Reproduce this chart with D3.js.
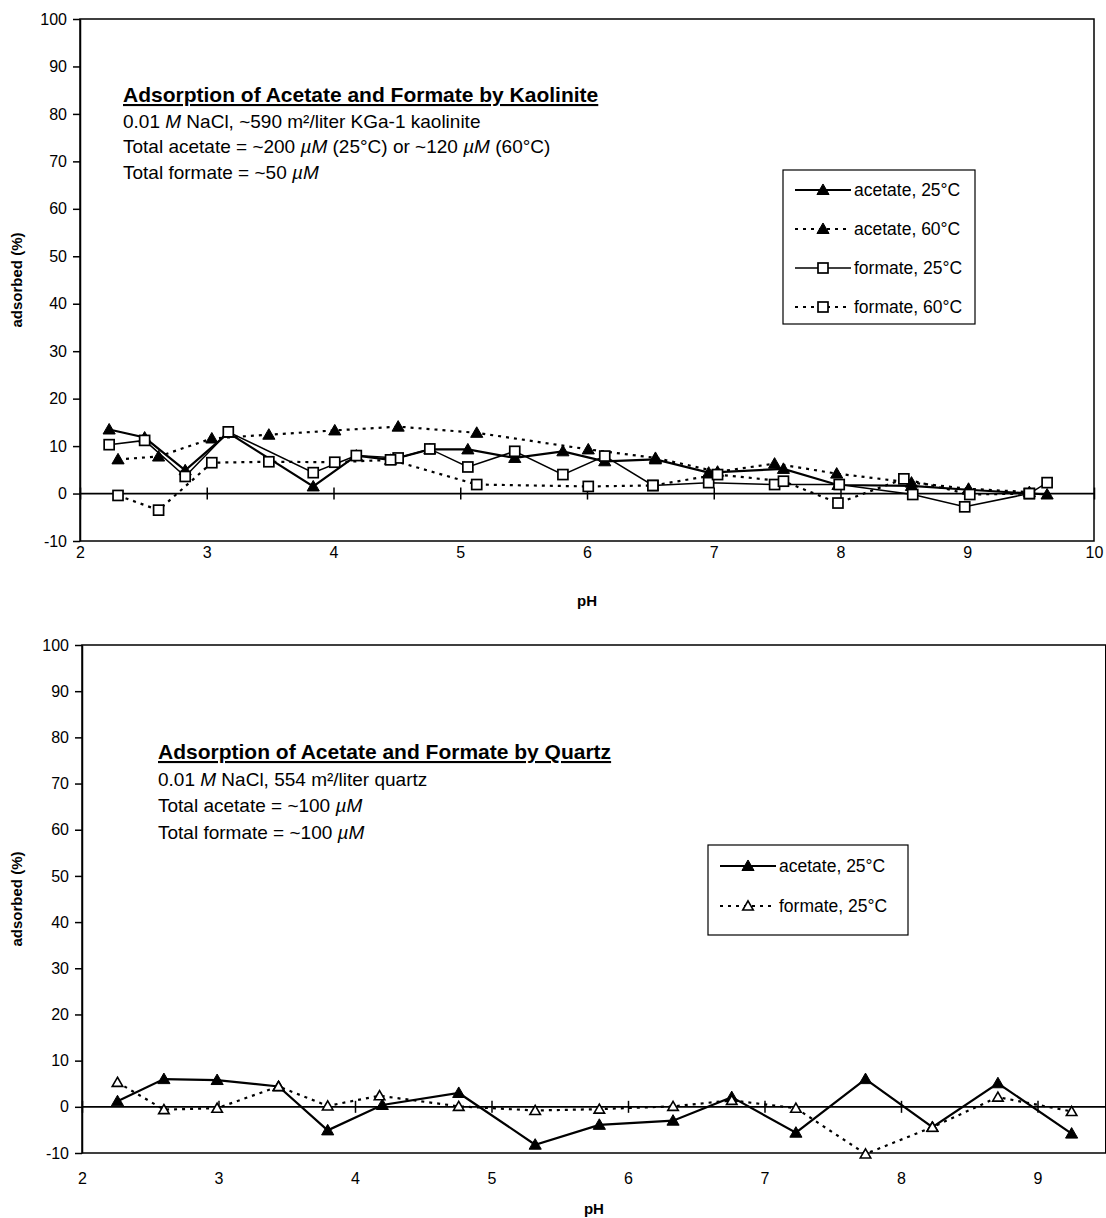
<!DOCTYPE html>
<html>
<head>
<meta charset="utf-8">
<script src="https://cdn.jsdelivr.net/npm/d3@7"></script>
<style>
  body { margin: 0; background: #fff; }
  text { font-family: "Liberation Sans", Arial, Helvetica, sans-serif; fill: #000; }
  .tick text { font-size: 16px; }
  .axis-title { font-size: 15px; font-weight: bold; }
  .note { font-size: 19px; }
  .note-title { font-size: 21px; font-weight: bold; text-decoration: underline; }
  .legend-label { font-size: 17.5px; }
</style>
</head>
<body>
<script>
// ---- data (pH, % adsorbed) ----

// kaolinite panel
const acetate25K = [[2.23,13.5],[2.51,11.8],[2.83,4.9],[3.17,12.8],[3.84,1.5],[4.18,8.0],[4.45,7.1],[4.76,9.3],
  [5.06,9.3],[5.43,7.5],[5.81,8.9],[6.14,6.8],[6.54,7.2],[6.96,4.4],[7.55,5.2],[7.98,1.8],[8.56,1.6],[9.01,0.8],[9.63,-0.2]];
const acetate60K = [[2.3,7.2],[2.62,7.8],[3.04,11.6],[3.49,12.4],[4.01,13.3],[4.51,14.1],[5.13,12.8],[6.01,9.3],
  [6.54,7.5],[7.03,4.6],[7.48,6.3],[7.97,4.2],[8.56,2.3],[9.01,1.0],[9.49,0.3]];
const formate25K = [[2.23,10.3],[2.51,11.2],[2.83,3.6],[3.17,13.0],[3.84,4.4],[4.18,8.0],[4.51,7.5],[4.76,9.4],
  [5.06,5.6],[5.43,8.9],[5.81,4.0],[6.14,7.9],[6.52,1.7],[6.96,2.3],[7.48,1.9],[7.99,1.9],[8.57,-0.2],[8.98,-2.8],[9.49,0.0],[9.63,2.3]];
const formate60K = [[2.3,-0.4],[2.62,-3.5],[3.04,6.5],[3.49,6.7],[4.01,6.6],[4.45,7.1],[5.13,1.9],[6.01,1.5],
  [6.52,1.7],[7.03,4.0],[7.55,2.6],[7.98,-2.0],[8.5,3.1],[9.02,-0.2],[9.49,0.0]];

// quartz panel
const acetate25Q = [[2.26,1.2],[2.60,6.0],[2.99,5.8],[3.44,4.4],[3.80,-5.1],[4.20,0.4],[4.76,3.0],[5.32,-8.2],
  [5.79,-3.9],[6.33,-3.0],[6.76,2.1],[7.23,-5.6],[7.74,6.0],[8.23,-4.4],[8.71,5.1],[9.25,-5.8]];
const formate25Q = [[2.26,5.3],[2.60,-0.6],[2.99,-0.3],[3.44,4.4],[3.80,0.2],[4.18,2.4],[4.76,0.1],[5.32,-0.8],
  [5.79,-0.5],[6.33,0.1],[6.76,1.4],[7.23,-0.3],[7.74,-10.2],[8.23,-4.4],[8.71,2.1],[9.25,-1.0]];

const yTicks = [-10, 0, 10, 20, 30, 40, 50, 60, 70, 80, 90, 100];
const xTicksK = [2, 3, 4, 5, 6, 7, 8, 9, 10];
const xTicksQ = [2, 3, 4, 5, 6, 7, 8, 9];

const notesK = [
  ["0.01 ", ["M", true], " NaCl, ~590 m\u00B2/liter KGa-1 kaolinite"],
  ["Total acetate = ~200 ", ["\u00B5M", true], " (25\u00B0C) or ~120 ", ["\u00B5M", true], " (60\u00B0C)"],
  ["Total formate = ~50 ", ["\u00B5M", true]]
];
const notesQ = [
  ["0.01 ", ["M", true], " NaCl, 554 m\u00B2/liter quartz"],
  ["Total acetate = ~100 ", ["\u00B5M", true]],
  ["Total formate = ~100 ", ["\u00B5M", true]]
];

const svg = d3.select("body").append("svg")
  .attr("width", 1106)
  .attr("height", 1218);

// series styles
const solidThick = { dash: null, width: 2.2 };
const solidThin = { dash: null, width: 1.5 };
const dotted = { dash: "3,5", width: 2.2 };

function drawMarker(g, kind, x, y) {
  if (kind === "triFilled" || kind === "triOpen") {
    g.append("path")
      .attr("d", d3.symbol(d3.symbolTriangle, kind === "triFilled" ? 64 : 48)())
      .attr("transform", `translate(${x},${y + 1})`)
      .attr("fill", kind === "triFilled" ? "#000" : "#fff")
      .attr("stroke", "#000")
      .attr("stroke-width", kind === "triFilled" ? 1 : 1.6);
  } else {
    g.append("rect")
      .attr("x", x - 5).attr("y", y - 5)
      .attr("width", 10).attr("height", 10)
      .attr("fill", "#fff")
      .attr("stroke", "#000")
      .attr("stroke-width", 1.7);
  }
}

function drawPanel(p) {
  const x = d3.scaleLinear().domain(p.xDomain).range([p.left, p.right]);
  const y = d3.scaleLinear().domain([-10, 100]).range([p.bottom, p.top]);
  const g = svg.append("g");

  // frame
  g.append("rect")
    .attr("x", p.left).attr("y", p.top)
    .attr("width", p.right - p.left).attr("height", p.bottom - p.top)
    .attr("fill", "none").attr("stroke", "#000").attr("stroke-width", 1.5);

  // y axis
  const yAxis = g.append("g")
    .attr("transform", `translate(${p.left},0)`)
    .call(d3.axisLeft(y).tickValues(yTicks).tickSize(7).tickSizeOuter(0).tickPadding(6)
      .tickFormat(d => String(d)));
  yAxis.select(".domain").attr("stroke-width", 1.5);
  yAxis.selectAll(".tick line").attr("stroke-width", 1.5);

  // x tick labels under the frame
  const xLab = g.append("g")
    .attr("transform", `translate(0,${p.bottom})`)
    .call(d3.axisBottom(x).tickValues(p.xTicks).tickSize(0).tickPadding(p.xLabelPad));
  xLab.select(".domain").remove();

  // zero line with crossing ticks
  g.append("line")
    .attr("x1", p.left).attr("x2", p.right)
    .attr("y1", y(0)).attr("y2", y(0))
    .attr("stroke", "#000").attr("stroke-width", 1.8);
  const zeroTicks = g.append("g")
    .attr("transform", `translate(0,${y(0) - 6})`)
    .call(d3.axisBottom(x).tickValues(p.xTicks).tickSize(12).tickFormat(""));
  zeroTicks.select(".domain").remove();
  zeroTicks.selectAll(".tick line").attr("stroke-width", 1.5);

  // axis titles
  g.append("text")
    .attr("class", "axis-title")
    .attr("transform", `translate(${p.yTitleX},${(p.top + p.bottom) / 2}) rotate(-90)`)
    .attr("text-anchor", "middle")
    .text("adsorbed (%)");
  g.append("text")
    .attr("class", "axis-title")
    .attr("x", (p.left + p.right) / 2)
    .attr("y", p.xTitleY)
    .attr("text-anchor", "middle")
    .text("pH");

  // series
  const line = d3.line().x(d => x(d[0])).y(d => y(d[1]));
  p.series.forEach(s => {
    g.append("path")
      .datum(s.data)
      .attr("d", line)
      .attr("fill", "none")
      .attr("stroke", "#000")
      .attr("stroke-width", s.style.width)
      .attr("stroke-dasharray", s.style.dash);
  });
  p.series.forEach(s => {
    s.data.forEach(d => drawMarker(g, s.marker, x(d[0]), y(d[1])));
  });

  // annotation
  const note = g.append("text").attr("x", p.noteX).attr("y", p.noteY);
  note.append("tspan").attr("class", "note-title").text(p.noteTitle);
  p.notes.forEach((parts, i) => {
    const t = g.append("text").attr("class", "note")
      .attr("x", p.noteX).attr("y", p.noteY + p.noteGap * (i + 1));
    parts.forEach(part => {
      if (Array.isArray(part)) t.append("tspan").attr("font-style", "italic").text(part[0]);
      else t.append("tspan").text(part);
    });
  });

  // legend
  const lg = g.append("g").attr("transform", `translate(${p.legend.x},${p.legend.y})`);
  lg.append("rect")
    .attr("width", p.legend.w).attr("height", p.legend.h)
    .attr("fill", "#fff").attr("stroke", "#000").attr("stroke-width", 1.2);
  p.series.forEach((s, i) => {
    const cy = p.legend.firstRow + i * p.legend.rowGap;
    lg.append("line")
      .attr("x1", 12).attr("x2", 68).attr("y1", cy).attr("y2", cy)
      .attr("stroke", "#000")
      .attr("stroke-width", s.style.width)
      .attr("stroke-dasharray", s.style.dash);
    drawMarker(lg, s.marker, 40, cy);
    lg.append("text")
      .attr("class", "legend-label")
      .attr("x", 71).attr("y", cy + 6)
      .text(s.label);
  });
}

drawPanel({
  left: 80, right: 1094, top: 19, bottom: 541,
  xDomain: [2, 10], xTicks: xTicksK, xLabelPad: 6,
  yTitleX: 22, xTitleY: 606,
  noteX: 123, noteY: 102, noteGap: 25.5,
  noteTitle: "Adsorption of Acetate and Formate by Kaolinite",
  notes: notesK,
  legend: { x: 783, y: 170, w: 192, h: 154, firstRow: 20, rowGap: 39 },
  series: [
    { label: "acetate, 25\u00B0C", data: acetate25K, style: solidThick, marker: "triFilled" },
    { label: "acetate, 60\u00B0C", data: acetate60K, style: dotted, marker: "triFilled" },
    { label: "formate, 25\u00B0C", data: formate25K, style: solidThin, marker: "square" },
    { label: "formate, 60\u00B0C", data: formate60K, style: dotted, marker: "square" }
  ]
});

drawPanel({
  left: 82, right: 1105.75, top: 645, bottom: 1153,
  xDomain: [2, 9.5], xTicks: xTicksQ, xLabelPad: 20,
  yTitleX: 22, xTitleY: 1214,
  noteX: 158, noteY: 759, noteGap: 26.5,
  noteTitle: "Adsorption of Acetate and Formate by Quartz",
  notes: notesQ,
  legend: { x: 708, y: 845, w: 200, h: 90, firstRow: 21, rowGap: 40 },
  series: [
    { label: "acetate, 25\u00B0C", data: acetate25Q, style: solidThick, marker: "triFilled" },
    { label: "formate, 25\u00B0C", data: formate25Q, style: dotted, marker: "triOpen" }
  ]
});
</script>
</body>
</html>
